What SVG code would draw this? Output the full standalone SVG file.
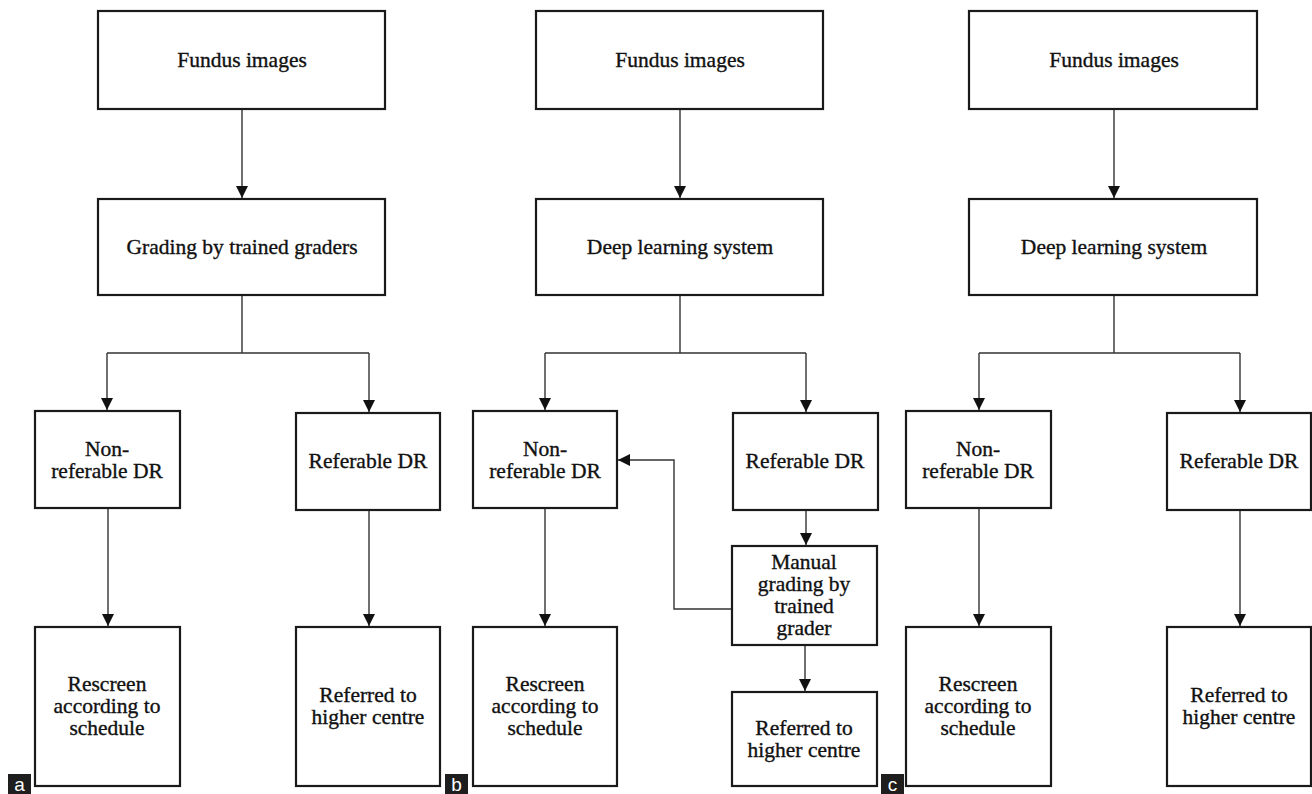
<svg xmlns="http://www.w3.org/2000/svg" width="1312" height="794" viewBox="0 0 1312 794">
<style>
.box{fill:#fff;stroke:#1a1a1a;stroke-width:2.2}
.t{font-family:"Liberation Serif","Times New Roman",serif;font-size:21.5px;fill:#111;stroke:#111;stroke-width:0.35;text-anchor:middle}
.c{fill:none;stroke:#333;stroke-width:1.4}
.lb{fill:#1e1e1e}
.lt{font-family:"Liberation Sans",Arial,sans-serif;font-size:19px;fill:#fff;text-anchor:middle}
</style>
<defs>
<marker id="ah" markerUnits="userSpaceOnUse" markerWidth="12" markerHeight="12" viewBox="0 0 12 12" refX="12" refY="6" orient="auto">
<path d="M0,0 L12,6 L0,12 Z" fill="#111"/>
</marker>
</defs>
<rect width="1312" height="794" fill="#fff"/>

<g id="connectors">
<!-- panel a -->
<path class="c" d="M242,109 V198" marker-end="url(#ah)"/>
<path class="c" d="M242,295 V353 M107,353 H369"/>
<path class="c" d="M107,353 V410" marker-end="url(#ah)"/>
<path class="c" d="M369,353 V412" marker-end="url(#ah)"/>
<path class="c" d="M108,508 V626" marker-end="url(#ah)"/>
<path class="c" d="M369,510 V626" marker-end="url(#ah)"/>
<!-- panel b -->
<path class="c" d="M680,109 V198" marker-end="url(#ah)"/>
<path class="c" d="M680,295 V353 M545,353 H806"/>
<path class="c" d="M545,353 V410" marker-end="url(#ah)"/>
<path class="c" d="M806,353 V412" marker-end="url(#ah)"/>
<path class="c" d="M545,508 V626" marker-end="url(#ah)"/>
<path class="c" d="M806,510 V545" marker-end="url(#ah)"/>
<path class="c" d="M805,645 V691" marker-end="url(#ah)"/>
<path class="c" d="M732,609 H674 V460 H618" marker-end="url(#ah)"/>
<!-- panel c -->
<path class="c" d="M1114,109 V198" marker-end="url(#ah)"/>
<path class="c" d="M1114,295 V353 M979,353 H1240"/>
<path class="c" d="M979,353 V410" marker-end="url(#ah)"/>
<path class="c" d="M1240,353 V412" marker-end="url(#ah)"/>
<path class="c" d="M979,508 V626" marker-end="url(#ah)"/>
<path class="c" d="M1240,510 V626" marker-end="url(#ah)"/>
</g>

<!-- Panel a -->
<g id="a-fundus"><rect class="box" x="98" y="11" width="287" height="98"/><text class="t" x="242" y="67">Fundus images</text></g>
<g id="a-grading"><rect class="box" x="98" y="199" width="287" height="96"/><text class="t" x="242" y="254">Grading by trained graders</text></g>
<g id="a-nonref"><rect class="box" x="35" y="411" width="145" height="97"/><text class="t" x="107" y="456">Non-</text><text class="t" x="107" y="478">referable DR</text></g>
<g id="a-ref"><rect class="box" x="296" y="413" width="144" height="97"/><text class="t" x="368" y="468">Referable DR</text></g>
<g id="a-rescreen"><rect class="box" x="35" y="627" width="145" height="159"/><text class="t" x="107" y="691">Rescreen</text><text class="t" x="107" y="713">according to</text><text class="t" x="107" y="735">schedule</text></g>
<g id="a-referred"><rect class="box" x="296" y="627" width="144" height="159"/><text class="t" x="368" y="702">Referred to</text><text class="t" x="368" y="724">higher centre</text></g>
<g id="label-a"><rect class="lb" x="8" y="774" width="23" height="20"/><text class="lt" x="19.5" y="791">a</text></g>

<!-- Panel b -->
<g id="b-fundus"><rect class="box" x="536" y="11" width="287" height="98"/><text class="t" x="680" y="67">Fundus images</text></g>
<g id="b-dls"><rect class="box" x="536" y="199" width="287" height="96"/><text class="t" x="680" y="254">Deep learning system</text></g>
<g id="b-nonref"><rect class="box" x="473" y="411" width="144" height="97"/><text class="t" x="545" y="456">Non-</text><text class="t" x="545" y="478">referable DR</text></g>
<g id="b-ref"><rect class="box" x="733" y="413" width="145" height="97"/><text class="t" x="805" y="468">Referable DR</text></g>
<g id="b-manual"><rect class="box" x="732" y="546" width="145" height="99"/><text class="t" x="804" y="569">Manual</text><text class="t" x="804" y="591">grading by</text><text class="t" x="804" y="613">trained</text><text class="t" x="804" y="635">grader</text></g>
<g id="b-rescreen"><rect class="box" x="473" y="627" width="144" height="159"/><text class="t" x="545" y="691">Rescreen</text><text class="t" x="545" y="713">according to</text><text class="t" x="545" y="735">schedule</text></g>
<g id="b-referred"><rect class="box" x="732" y="692" width="145" height="94"/><text class="t" x="804" y="735">Referred to</text><text class="t" x="804" y="757">higher centre</text></g>
<g id="label-b"><rect class="lb" x="445" y="774" width="23" height="20"/><text class="lt" x="456.5" y="791">b</text></g>

<!-- Panel c -->
<g id="c-fundus"><rect class="box" x="969" y="11" width="288" height="98"/><text class="t" x="1114" y="67">Fundus images</text></g>
<g id="c-dls"><rect class="box" x="969" y="199" width="288" height="96"/><text class="t" x="1114" y="254">Deep learning system</text></g>
<g id="c-nonref"><rect class="box" x="906" y="411" width="145" height="97"/><text class="t" x="978" y="456">Non-</text><text class="t" x="978" y="478">referable DR</text></g>
<g id="c-ref"><rect class="box" x="1167" y="413" width="144" height="97"/><text class="t" x="1239" y="468">Referable DR</text></g>
<g id="c-rescreen"><rect class="box" x="906" y="627" width="145" height="159"/><text class="t" x="978" y="691">Rescreen</text><text class="t" x="978" y="713">according to</text><text class="t" x="978" y="735">schedule</text></g>
<g id="c-referred"><rect class="box" x="1167" y="627" width="144" height="159"/><text class="t" x="1239" y="702">Referred to</text><text class="t" x="1239" y="724">higher centre</text></g>
<g id="label-c"><rect class="lb" x="881" y="774" width="23" height="20"/><text class="lt" x="892.5" y="791">c</text></g>
</svg>
